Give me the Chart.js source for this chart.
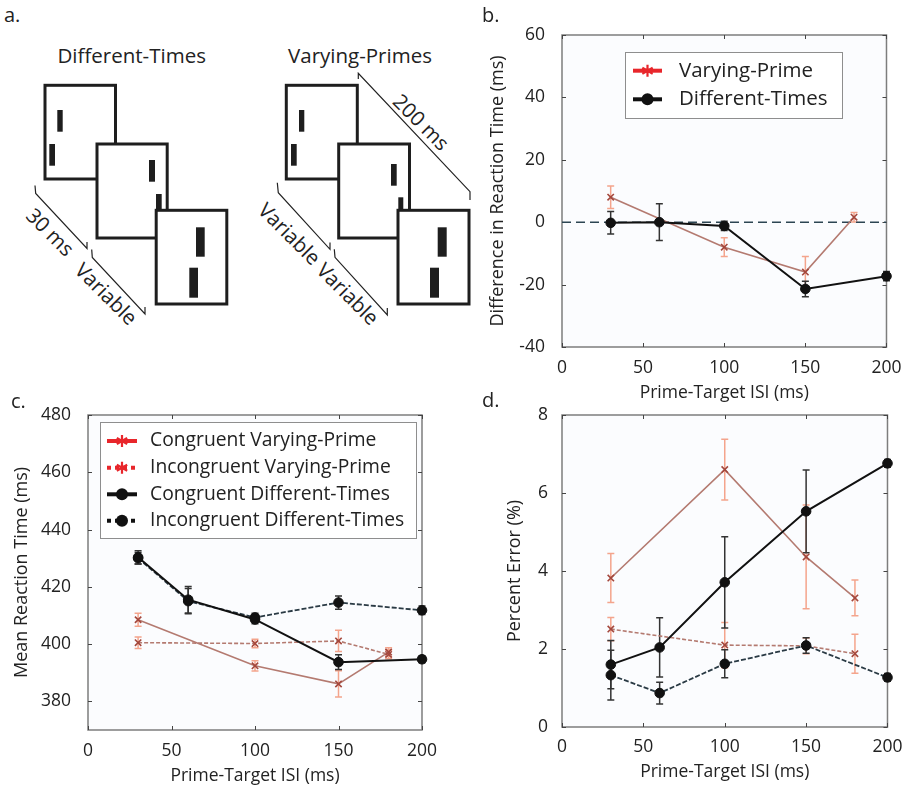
<!DOCTYPE html>
<html><head><meta charset="utf-8">
<script src="https://cdn.jsdelivr.net/npm/chart.js@4.4.1/dist/chart.umd.min.js"></script>
<style>
html,body{margin:0;padding:0;background:#fff;}
#wrap{position:relative;width:912px;height:787px;overflow:hidden;font-family:'Open Sans',sans-serif;color:#222;background:#fff;}
.lbl{position:absolute;font-size:20px;line-height:20px;color:#222;}
canvas{position:absolute;}
</style></head><body>
<div id="wrap">
<svg width="475" height="335" style="position:absolute;left:0;top:0" font-family="'Open Sans',sans-serif" font-size="20.5" fill="#222">
  <text x="131.7" y="55" text-anchor="middle" dominant-baseline="central">Different-Times</text>
  <text x="360" y="55" text-anchor="middle" dominant-baseline="central">Varying-Primes</text>
  <g stroke="#1e1e1e" stroke-width="3" fill="#fff">
    <rect x="45" y="85.3" width="70.5" height="93.7"/>
  </g>
  <g fill="#1e1e1e"><rect x="57.3" y="110" width="5.4" height="21.7"/><rect x="49.3" y="144" width="5.7" height="21.7"/></g>
  <g stroke="#1e1e1e" stroke-width="3" fill="#fff"><rect x="97" y="144" width="70.2" height="94"/></g>
  <g fill="#1e1e1e"><rect x="149" y="160" width="6" height="21.7"/><rect x="156" y="194" width="5.7" height="16"/></g>
  <g stroke="#1e1e1e" stroke-width="3" fill="#fff"><rect x="156.2" y="210.3" width="70.6" height="93.7"/></g>
  <g fill="#1e1e1e"><rect x="196" y="227.3" width="8.7" height="29.4"/><rect x="189.3" y="267.7" width="8.7" height="30"/></g>

  <g stroke="#1e1e1e" stroke-width="3" fill="#fff"><rect x="286.3" y="85.3" width="71" height="93.7"/></g>
  <g fill="#1e1e1e"><rect x="299" y="110" width="5.3" height="21.7"/><rect x="291" y="144" width="5.7" height="21.7"/></g>
  <g stroke="#1e1e1e" stroke-width="3" fill="#fff"><rect x="338.7" y="144" width="70.8" height="94"/></g>
  <g fill="#1e1e1e"><rect x="391" y="164" width="5.7" height="21.7"/><rect x="398.3" y="197.3" width="5" height="13"/></g>
  <g stroke="#1e1e1e" stroke-width="3" fill="#fff"><rect x="398" y="210.3" width="71" height="93.7"/></g>
  <g fill="#1e1e1e"><rect x="437.7" y="227.3" width="9" height="29.4"/><rect x="430" y="267.7" width="9" height="30"/></g>

  <g stroke="#222" stroke-width="1.2" fill="none">
    <path d="M35,185.5 L35.7,193.5 L87,248.5 L87,242"/>
    <path d="M91.7,249.5 L92.3,257.5 L145,314 L145,307"/>
    <path d="M277.3,182.7 L278.3,192.7 L330,249.3 L330,242.5"/>
    <path d="M334.3,249.3 L335,257.3 L387.3,315 L387.3,308"/>
    <path d="M358.3,79 L358.3,73.3 L470,191.7 L470,200"/>
  </g>
  <g font-size="20.5">
    <text transform="translate(50.7,231.7) rotate(45)" text-anchor="middle" dominant-baseline="central">30 ms</text>
    <text transform="translate(106.7,293.3) rotate(45)" text-anchor="middle" dominant-baseline="central">Variable</text>
    <text transform="translate(290,233.3) rotate(45)" text-anchor="middle" dominant-baseline="central">Variable</text>
    <text transform="translate(348.3,293.3) rotate(45)" text-anchor="middle" dominant-baseline="central">Variable</text>
    <text transform="translate(421.7,121.7) rotate(45)" text-anchor="middle" dominant-baseline="central">200 ms</text>
  </g>
</svg>
<canvas id="cc" width="460" height="407" style="left:0;top:380px"></canvas>
<canvas id="cd" width="442" height="407" style="left:470px;top:380px"></canvas>
<canvas id="cb" width="442" height="410" style="left:470px;top:0"></canvas>
<div class="lbl" style="left:4px;top:5px">a.</div>
<div class="lbl" style="left:482px;top:5px">b.</div>
<div class="lbl" style="left:11px;top:391px">c.</div>
<div class="lbl" style="left:482px;top:390px">d.</div>
</div>
<script>
// ---------- data ----------
const ISI_TICKS = [0, 50, 100, 150, 200];
const B_Y_TICKS = [-40, -20, 0, 20, 40, 60];
const C_Y_TICKS = [380, 400, 420, 440, 460, 480];
const D_Y_TICKS = [0, 2, 4, 6, 8];

const VARY_ISI = [30, 100, 150, 180];
const DIFF_ISI = [30, 60, 100, 150, 200];

// panel b: difference in reaction time
const bVaryPrime = [8, -8, -16, 1.6];
const bVaryPrimeErr = [3.6, 3, 5, 1.5];
const bDiffTimes = [-0.2, 0, -1.2, -21.4, -17.3];
const bDiffTimesErr = [3.6, 5.9, 1.5, 2.5, 1.5];
const bZeroX = [0, 200];
const bZeroY = [0, 0];

// panel c: mean reaction time
const cCongVary = [408.5, 392.4, 386.1, 397.2];
const cCongVaryErr = [2.3, 1.8, 4.6, 1.5];
const cIncVary = [400.5, 400.2, 401.1, 396.4];
const cIncVaryErr = [2, 1.5, 3.7, 1.5];
const cCongDiff = [430.3, 415.5, 408.6, 393.7, 394.7];
const cCongDiffErr = [2.3, 4.6, 1.5, 2.6, 1.2];
const cIncDiff = [430, 415, 409.3, 414.5, 411.8];
const cIncDiffErr = [2, 4.4, 1.5, 2.3, 1.5];

// panel d: percent error
const dCongVary = [3.82, 6.6, 4.36, 3.31];
const dCongVaryErr = [0.63, 0.78, 1.33, 0.46];
const dIncVary = [2.51, 2.1, 2.08, 1.88];
const dIncVaryErr = [0.3, 0.58, 0.2, 0.5];
const dCongDiff = [1.6, 2.04, 3.71, 5.53, 6.76];
const dCongDiffErr = [0.62, 0.76, 1.17, 1.06, 0.1];
const dIncDiff = [1.33, 0.87, 1.62, 2.09, 1.27];
const dIncDiffErr = [0.64, 0.28, 0.36, 0.2, 0.1];

// ---------- styling ----------
const FONT = "'Open Sans', sans-serif";
const TXT = '#222';
const RED_LINE = '#b47a70';
const RED_MARK = '#a4473c';
const RED_ERR = '#f4a48c';
const RED_LEG = '#e8262b';
const BLACK = '#111';

function pts(xs, ys) { return xs.map((x, i) => ({ x: x, y: ys[i] })); }

function redSet(label, ys, errs, dashed, leg) {
  return {
    label, data: pts(VARY_ISI, ys), errors: errs, errColor: RED_ERR,
    showLine: true, borderColor: RED_LINE, borderWidth: 1.6, borderDash: dashed ? [4, 2] : [],
    pointStyle: 'crossRot', pointRadius: 4.5, pointBorderColor: RED_MARK, pointBorderWidth: 1.6,
    pointBackgroundColor: 'rgba(0,0,0,0)', clip: false, order: 2, legendSym: leg
  };
}
function blackSet(label, ys, errs, dashed, leg) {
  return {
    label, data: pts(DIFF_ISI, ys), errors: errs, errColor: '#333',
    showLine: true, borderColor: dashed ? '#2a3a44' : BLACK, borderWidth: dashed ? 1.8 : 2, borderDash: dashed ? [5, 2] : [],
    pointStyle: 'circle', pointRadius: 4.8, pointBorderColor: BLACK, pointBorderWidth: 1,
    pointBackgroundColor: BLACK, clip: false, order: 1, legendSym: leg
  };
}

// background of plot area
const plotBg = {
  id: 'plotBg',
  beforeDraw(chart) {
    const { ctx, chartArea: a } = chart;
    ctx.save();
    ctx.fillStyle = '#fbfcfe';
    ctx.fillRect(a.left, a.top, a.right - a.left, a.bottom - a.top);
    ctx.restore();
  }
};
// frame, inner ticks, error bars
const frameErr = {
  id: 'frameErr',
  beforeDatasetsDraw(chart) {
    const { ctx, chartArea: a, scales } = chart;
    ctx.save();
    ctx.strokeStyle = '#7d7d7d';
    ctx.lineWidth = 1.5;
    ctx.strokeRect(a.left, a.top, a.right - a.left, a.bottom - a.top);
    ctx.strokeStyle = '#444';
    ctx.lineWidth = 1;
    scales.x.ticks.forEach(t => {
      const px = Math.round(scales.x.getPixelForValue(t.value)) + 0.5;
      ctx.beginPath();
      ctx.moveTo(px, a.bottom); ctx.lineTo(px, a.bottom - 4);
      ctx.moveTo(px, a.top); ctx.lineTo(px, a.top + 4);
      ctx.stroke();
    });
    scales.y.ticks.forEach(t => {
      const py = Math.round(scales.y.getPixelForValue(t.value)) + 0.5;
      ctx.beginPath();
      ctx.moveTo(a.left, py); ctx.lineTo(a.left + 4, py);
      ctx.moveTo(a.right, py); ctx.lineTo(a.right - 4, py);
      ctx.stroke();
    });
    chart.data.datasets.forEach(ds => {
      if (!ds.errors) return;
      ctx.strokeStyle = ds.errColor;
      ctx.lineWidth = 1.5;
      ds.data.forEach((p, i) => {
        const e = ds.errors[i];
        const px = scales.x.getPixelForValue(p.x);
        const y1 = scales.y.getPixelForValue(p.y + e);
        const y2 = scales.y.getPixelForValue(p.y - e);
        ctx.beginPath();
        ctx.moveTo(px, y1); ctx.lineTo(px, y2);
        ctx.moveTo(px - 3.5, y1); ctx.lineTo(px + 3.5, y1);
        ctx.moveTo(px - 3.5, y2); ctx.lineTo(px + 3.5, y2);
        ctx.stroke();
      });
    });
    ctx.restore();
  }
};
// boxed legend inside the plot
const boxLegend = {
  id: 'boxLegend',
  afterDraw(chart, args, o) {
    if (!o || !o.box) return;
    const ctx = chart.ctx;
    const [x1, y1, x2, y2] = o.box;
    ctx.save();
    ctx.fillStyle = '#fff';
    ctx.fillRect(x1, y1, x2 - x1, y2 - y1);
    ctx.strokeStyle = '#8e8e8e';
    ctx.lineWidth = 1;
    ctx.strokeRect(x1 + 0.5, y1 + 0.5, x2 - x1, y2 - y1);
    const items = chart.data.datasets.filter(d => d.legendSym);
    items.forEach((d, i) => {
      const y = o.rows[i];
      const s = d.legendSym;
      const mx = (o.sym[0] + o.sym[1]) / 2;
      ctx.strokeStyle = s.color;
      ctx.lineWidth = 4;
      ctx.setLineDash(s.dash || []);
      ctx.beginPath();
      ctx.moveTo(o.sym[0], y); ctx.lineTo(o.sym[1], y);
      ctx.stroke();
      ctx.setLineDash([]);
      if (s.marker === 'star') {
        ctx.lineWidth = 2.2;
        ctx.beginPath();
        for (let k = 0; k < 3; k++) {
          const ang = Math.PI / 2 + k * Math.PI / 3;
          ctx.moveTo(mx + 6 * Math.cos(ang), y + 6 * Math.sin(ang));
          ctx.lineTo(mx - 6 * Math.cos(ang), y - 6 * Math.sin(ang));
        }
        ctx.stroke();
      } else {
        ctx.fillStyle = s.color;
        ctx.beginPath();
        ctx.arc(mx, y, 6, 0, Math.PI * 2);
        ctx.fill();
      }
      ctx.fillStyle = TXT;
      ctx.font = o.fontSize + 'px ' + FONT;
      ctx.textBaseline = 'middle';
      ctx.textAlign = 'left';
      ctx.fillText(d.label, o.textX, y);
    });
    ctx.restore();
  }
};

function makeOptions(cfg) {
  return {
    responsive: false, animation: false, events: [],
    layout: { padding: cfg.pad },
    plugins: { legend: { display: false }, tooltip: { enabled: false }, boxLegend: cfg.legend || {} },
    scales: {
      x: {
        type: 'linear', min: 0, max: 200,
        afterBuildTicks: ax => { ax.ticks = ISI_TICKS.map(v => ({ value: v })); },
        ticks: { font: { family: FONT, size: 17.5 }, color: TXT, padding: cfg.xTickPad, maxRotation: 0, autoSkip: false },
        grid: { display: false, drawTicks: false },
        border: { display: false },
        title: { display: true, text: 'Prime-Target ISI (ms)', font: { family: FONT, size: 17.5 }, color: TXT, padding: { top: 0, bottom: cfg.xTitlePad } },
        afterFit: ax => { ax.height = cfg.xH; }
      },
      y: {
        type: 'linear', min: cfg.yMin, max: cfg.yMax,
        afterBuildTicks: ax => { ax.ticks = cfg.yTicks.map(v => ({ value: v })); },
        ticks: { font: { family: FONT, size: 17.5 }, color: TXT, padding: cfg.yTickPad, autoSkip: false },
        grid: { display: false, drawTicks: false },
        border: { display: false },
        title: { display: true, text: cfg.yTitle, font: { family: FONT, size: 18 }, color: TXT, padding: { top: cfg.yTitlePad, bottom: 0 } },
        afterFit: ax => { ax.width = cfg.yW; }
      }
    }
  };
}

// ---------- panel b ----------
new Chart(document.getElementById('cb'), {
  type: 'scatter',
  data: {
    datasets: [
      redSet('Varying-Prime', bVaryPrime, bVaryPrimeErr, false, { color: RED_LEG, marker: 'star' }),
      blackSet('Different-Times', bDiffTimes, bDiffTimesErr, false, { color: BLACK, marker: 'circle' }),
      { label: 'zero', data: pts(bZeroX, bZeroY), showLine: true, borderColor: '#2c4552', borderWidth: 1.5,
        borderDash: [9, 5], pointRadius: 0, order: 3 }
    ]
  },
  options: makeOptions({
    pad: { left: 0, right: 15, top: 35, bottom: 0 }, xH: 63, yW: 92,
    xTickPad: 10.5, xTitlePad: 6, yTickPad: 17, yTitlePad: 17,
    yMin: -40, yMax: 60, yTicks: B_Y_TICKS, yTitle: 'Difference in Reaction Time (ms)',
    legend: { box: [155, 52, 372, 118], rows: [70.7, 99.3], sym: [163, 192], textX: 209, fontSize: 20.5 }
  }),
  plugins: [plotBg, frameErr, boxLegend]
});

// ---------- panel c ----------
new Chart(document.getElementById('cc'), {
  type: 'scatter',
  data: {
    datasets: [
      redSet('Congruent Varying-Prime', cCongVary, cCongVaryErr, false, { color: RED_LEG, marker: 'star' }),
      redSet('Incongruent Varying-Prime', cIncVary, cIncVaryErr, true, { color: RED_LEG, marker: 'star', dash: [4, 4] }),
      blackSet('Congruent Different-Times', cCongDiff, cCongDiffErr, false, { color: BLACK, marker: 'circle' }),
      blackSet('Incongruent Different-Times', cIncDiff, cIncDiffErr, true, { color: BLACK, marker: 'circle', dash: [4, 4] })
    ]
  },
  options: makeOptions({
    pad: { left: 0, right: 38, top: 35, bottom: 0 }, xH: 57, yW: 88,
    xTickPad: 11, xTitlePad: 0, yTickPad: 17, yTitlePad: 11,
    yMin: 370, yMax: 480, yTicks: C_Y_TICKS, yTitle: 'Mean Reaction Time (ms)',
    legend: { box: [100, 42, 416, 158], rows: [61, 87.7, 114.3, 140.7], sym: [107, 137], textX: 150, fontSize: 19.3 }
  }),
  plugins: [plotBg, frameErr, boxLegend]
});

// ---------- panel d ----------
new Chart(document.getElementById('cd'), {
  type: 'scatter',
  data: {
    datasets: [
      redSet('Congruent Varying-Prime', dCongVary, dCongVaryErr, false, null),
      redSet('Incongruent Varying-Prime', dIncVary, dIncVaryErr, true, null),
      blackSet('Congruent Different-Times', dCongDiff, dCongDiffErr, false, null),
      blackSet('Incongruent Different-Times', dIncDiff, dIncDiffErr, true, null)
    ]
  },
  options: makeOptions({
    pad: { left: 0, right: 16, top: 35, bottom: 0 }, xH: 60, yW: 92,
    xTickPad: 9.5, xTitlePad: 4.5, yTickPad: 14, yTitlePad: 34,
    yMin: 0, yMax: 8, yTicks: D_Y_TICKS, yTitle: 'Percent Error (%)'
  }),
  plugins: [plotBg, frameErr, boxLegend]
});
</script>
</body></html>
